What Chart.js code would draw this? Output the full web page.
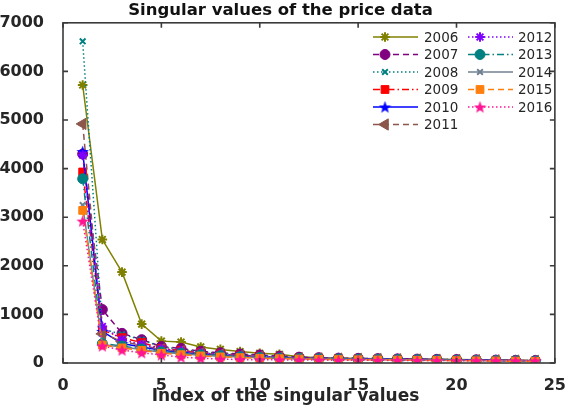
<!DOCTYPE html>
<html><head><meta charset="utf-8">
<script src="https://cdn.jsdelivr.net/npm/chart.js@4/dist/chart.umd.min.js"></script>
<style>html,body{margin:0;padding:0;background:#fff}</style>
</head><body>
<canvas id="c" width="571" height="408"></canvas>
<script>
const indices = [1,2,3,4,5,6,7,8,9,10,11,12,13,14,15,16,17,18,19,20,21,22,23,24];
const years = ['2006','2007','2008','2009','2010','2011','2012','2013','2014','2015','2016'];
const xTicks = [0,5,10,15,20,25];
const yTicks = [0,1000,2000,3000,4000,5000,6000,7000];
const xTitle = 'Index of the singular values';
const s2006 = [5720,2540,1870,800,450,430,330,280,235,200,180,130,110,100,95,90,85,80,75,70,65,60,55,50];
const s2007 = [4300,1100,610,480,340,300,240,210,185,165,140,120,110,100,95,90,85,80,75,70,65,60,55,50];
const s2008 = [6620,700,590,480,330,285,230,200,175,155,130,115,105,100,92,88,82,78,72,68,62,58,52,48];
const s2009 = [3930,680,520,420,300,260,210,185,160,140,120,105,98,92,88,84,78,74,70,65,60,56,50,45];
const s2010 = [4350,650,400,330,260,220,185,165,145,125,110,100,92,88,84,80,75,70,66,62,58,54,48,44];
const s2011 = [4920,600,450,360,280,240,200,175,150,130,115,102,95,90,86,82,77,72,68,63,59,55,50,45];
const s2012 = [4280,750,480,380,290,250,205,180,155,135,118,104,96,90,86,82,77,72,68,63,59,55,50,45];
const s2013 = [3790,400,350,290,230,200,170,150,130,115,100,92,86,82,78,74,70,66,62,58,54,50,46,42];
const s2014 = [3250,380,330,280,220,190,160,140,125,110,96,88,82,78,74,70,66,62,58,54,50,46,42,38];
const s2015 = [3140,370,310,260,200,170,145,125,110,98,88,80,75,70,66,62,58,55,51,48,44,40,36,32];
const s2016 = [2920,350,265,210,165,120,98,80,70,68,65,62,60,58,57,55,53,52,50,49,48,47,46,45];
const seriesValues = [s2006,s2007,s2008,s2009,s2010,s2011,s2012,s2013,s2014,s2015,s2016];

function pentagram(color, size){
  const cv = document.createElement('canvas');
  cv.width = size; cv.height = size;
  const c = cv.getContext('2d');
  const cx = size/2, cy = size/2 + 0.6, R = size/2, r = R*0.42;
  c.beginPath();
  for (let i=0;i<10;i++){
    const a = -Math.PI/2 + i*Math.PI/5;
    const rr = i%2===0 ? R : r;
    const px = cx + rr*Math.cos(a), py = cy + rr*Math.sin(a);
    if(i===0) c.moveTo(px,py); else c.lineTo(px,py);
  }
  c.closePath();
  c.fillStyle = color; c.fill();
  return cv;
}

const solid = [], dashed = [6,4], dotted = [1.5,2.5], dashdot = [7,3,1.5,3];
const styles = [
  {color:'#808000', dash:solid,  point:'star',     radius:4.8, bw:2},
  {color:'#800080', dash:dashed, point:'circle',   radius:5,   bw:1},
  {color:'#008080', dash:dotted, point:'crossRot', radius:4,   bw:2},
  {color:'#ff0000', dash:dashdot,point:'rect',     radius:5.5, bw:1},
  {color:'#0000ff', dash:solid,  point:'pent',     radius:7,   bw:1},
  {color:'#8c564b', dash:dashed, point:'triangle', radius:6.5, bw:1, rot:-90},
  {color:'#8000ff', dash:dotted, point:'star',     radius:4.8, bw:2},
  {color:'#008080', dash:dashdot,point:'circle',   radius:5,   bw:1},
  {color:'#708090', dash:solid,  point:'crossRot', radius:4,   bw:2},
  {color:'#ff7f0e', dash:dashed, point:'rect',     radius:5.5, bw:1},
  {color:'#ff1493', dash:dotted, point:'pent',     radius:7,   bw:1}
];
styles.forEach(s => { if (s.point === 'pent') s.point = pentagram(s.color, 13); });

const datasets = years.map((y,i) => ({
  label: y,
  data: indices.map((x,j) => ({x:x, y:seriesValues[i][j]})),
  borderColor: styles[i].color,
  backgroundColor: styles[i].color,
  borderWidth: 1.5,
  borderDash: styles[i].dash,
  pointStyle: styles[i].point,
  pointRadius: styles[i].radius,
  pointBorderWidth: styles[i].bw,
  pointRotation: styles[i].rot || 0,
  pointBackgroundColor: styles[i].color,
  pointBorderColor: styles[i].color,
  tension: 0,
  fill: false,
  order: years.length - i
}));

const txtColor = '#262626';
const frameColor = '#3a3a3a';

const framePlugin = {
  id: 'frame',
  afterDatasetsDraw(chart){
    const {ctx, chartArea:a, scales} = chart;
    ctx.save();
    ctx.strokeStyle = frameColor; ctx.lineWidth = 1.6; ctx.setLineDash([]);
    ctx.strokeRect(a.left, a.top, a.right-a.left, a.bottom-a.top);
    ctx.beginPath();
    xTicks.forEach(v => {
      const px = scales.x.getPixelForValue(v);
      ctx.moveTo(px, a.bottom); ctx.lineTo(px, a.bottom-5);
      ctx.moveTo(px, a.top); ctx.lineTo(px, a.top+5);
    });
    yTicks.forEach(v => {
      const py = scales.y.getPixelForValue(v);
      ctx.moveTo(a.left, py); ctx.lineTo(a.left+5, py);
      ctx.moveTo(a.right, py); ctx.lineTo(a.right-5, py);
    });
    ctx.stroke();
    ctx.fillStyle = txtColor;
    ctx.font = 'bold 17px "DejaVu Sans"';
    ctx.textAlign = 'center'; ctx.textBaseline = 'middle';
    ctx.fillText(xTitle, chart.width/2, 397);
    ctx.restore();
  }
};

const legendPlugin = {
  id: 'customLegend',
  afterDraw(chart){
    const ctx = chart.ctx;
    const cols = [{x:373, text:424}, {x:468, text:518}];
    const rowY = [37, 54.5, 72, 89.5, 107, 124.5];
    ctx.save();
    years.forEach((y,i) => {
      const col = i < 6 ? 0 : 1;
      const row = i < 6 ? i : i - 6;
      const x0 = cols[col].x, yy = rowY[row];
      const st = styles[i];
      ctx.strokeStyle = st.color; ctx.lineWidth = 1.5;
      ctx.setLineDash(st.dash);
      ctx.beginPath(); ctx.moveTo(x0, yy); ctx.lineTo(x0+45, yy); ctx.stroke();
      ctx.setLineDash([]);
      ctx.fillStyle = st.color; ctx.strokeStyle = st.color; ctx.lineWidth = st.bw;
      Chart.helpers.drawPoint(ctx, {pointStyle: st.point, rotation: st.rot||0, radius: st.radius, borderWidth: st.bw}, x0+12, yy);
      ctx.fillStyle = txtColor;
      ctx.font = '13.5px "DejaVu Sans"';
      ctx.textBaseline = 'middle'; ctx.textAlign = 'left';
      ctx.fillText(y, cols[col].text, yy+1);
    });
    ctx.restore();
  }
};

const tickFont = {family:'DejaVu Sans', size:16, weight:'bold'};
new Chart(document.getElementById('c'), {
  type: 'line',
  data: {datasets},
  options: {
    responsive: false,
    animation: false,
    devicePixelRatio: 1,
    layout: {padding: {left:0, right:10, top:0, bottom:0}},
    plugins: {
      legend: {display:false},
      tooltip: {enabled:false},
      title: {display:true, text:'Singular values of the price data', color:'#111',
        font:{family:'DejaVu Sans', size:16.5, weight:'bold'}, padding:{top:1, bottom:2}}
    },
    scales: {
      x: {type:'linear', min:0, max:25,
        afterBuildTicks(s){ s.ticks = xTicks.map(v => ({value:v})); },
        ticks:{color:txtColor, font:tickFont, padding:5, maxRotation:0, callback:v => String(v)},
        grid:{display:false}, border:{display:false},
        title:{display:false},
        afterFit(s){ s.height = 45; }
      },
      y: {type:'linear', min:0, max:7000,
        afterBuildTicks(s){ s.ticks = yTicks.map(v => ({value:v})); },
        ticks:{color:txtColor, font:tickFont, padding:11, callback:v => String(v)},
        grid:{display:false}, border:{display:false},
        afterFit(s){ s.width = 63; }
      }
    }
  },
  plugins: [framePlugin, legendPlugin]
});
</script>
</body></html>
